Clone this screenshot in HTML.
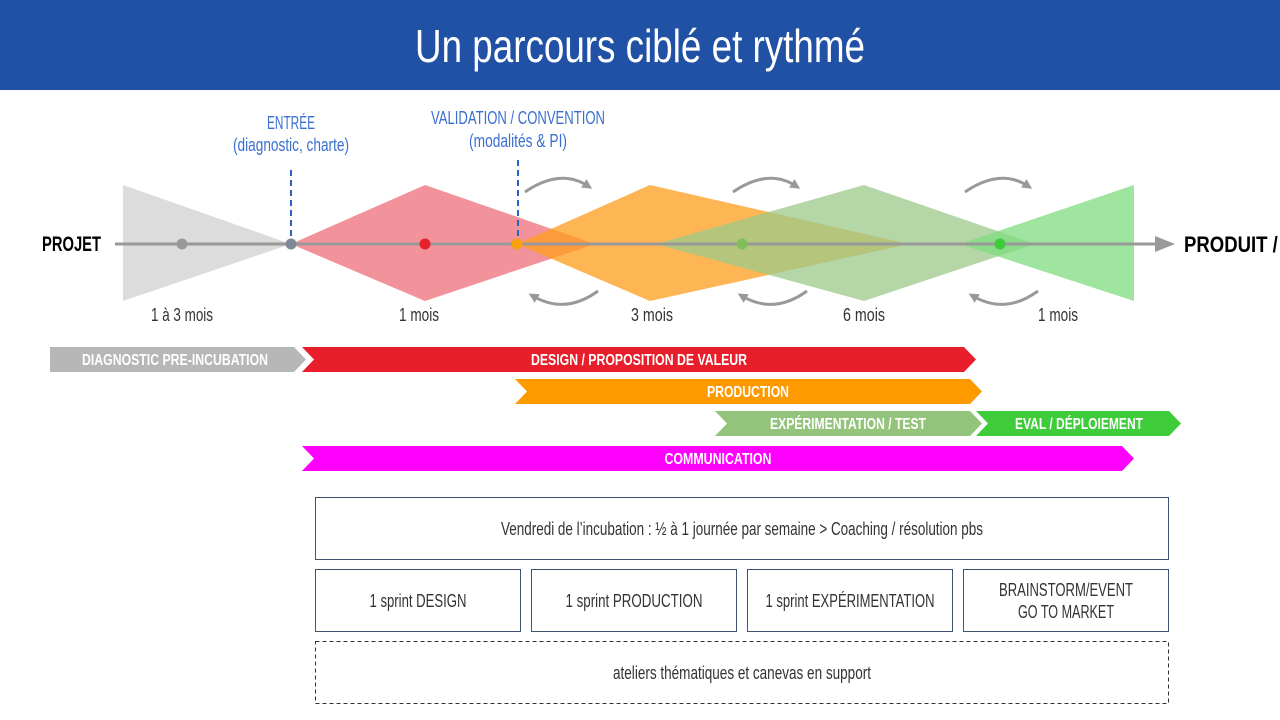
<!DOCTYPE html>
<html><head><meta charset="utf-8"><style>
html,body{margin:0;padding:0;background:#fff;}
svg{display:block}
text{font-family:"Liberation Sans Narrow","Liberation Sans",sans-serif;}
</style></head><body>
<svg width="1280" height="720" viewBox="0 0 1280 720" xmlns="http://www.w3.org/2000/svg">
<defs>
<marker id="ah" markerWidth="10" markerHeight="10" refX="5" refY="5" orient="auto" markerUnits="userSpaceOnUse"><path d="M0,0 L10,5 L0,10 z" fill="#999"/></marker>
</defs>
<rect x="0" y="0" width="1280" height="90" fill="#2151a5"/>
<text x="640" y="62" font-size="46" fill="#fff" text-anchor="middle" textLength="450" lengthAdjust="spacingAndGlyphs" font-weight="300">Un parcours ciblé et rythmé</text>

<text x="291" y="129" font-size="18" fill="#3a6fd0" text-anchor="middle" textLength="48" lengthAdjust="spacingAndGlyphs">ENTRÉE</text>
<text x="291" y="151" font-size="18" fill="#3a6fd0" text-anchor="middle" textLength="116" lengthAdjust="spacingAndGlyphs">(diagnostic, charte)</text>
<text x="518" y="124" font-size="18" fill="#3a6fd0" text-anchor="middle" textLength="174" lengthAdjust="spacingAndGlyphs">VALIDATION / CONVENTION</text>
<text x="518" y="147" font-size="18" fill="#3a6fd0" text-anchor="middle" textLength="98" lengthAdjust="spacingAndGlyphs">(modalités &amp; PI)</text>

<polygon points="123,185 123,301 291,244" fill="#dcdcdc"/>
<polygon points="291,244 425,185 595,244 425,301" fill="#ee6e78" opacity="0.75"/>
<polygon points="517,244 650,185 909,244 650,301" fill="#fd9d1c" opacity="0.75"/>
<polygon points="656,244 864,185 1035,244 864,301" fill="#9cc98a" opacity="0.75"/>
<polygon points="960,244 1134,185 1134,301" fill="#7fdc7f" opacity="0.75"/>

<line x1="291" y1="170" x2="291" y2="244" stroke="#2b62c8" stroke-width="2" stroke-dasharray="6,4"/>
<line x1="518" y1="160" x2="518" y2="244" stroke="#2b62c8" stroke-width="2" stroke-dasharray="6,4"/>

<line x1="115" y1="244" x2="1162" y2="244" stroke="#999" stroke-width="3"/>
<polygon points="1155,236 1175,244 1155,252" fill="#999"/>
<circle cx="182" cy="244" r="5.5" fill="#999"/>
<circle cx="291" cy="244" r="5.5" fill="#7f8896"/>
<circle cx="425" cy="244" r="5.5" fill="#e8202a"/>
<circle cx="517" cy="244" r="5.5" fill="#f9a10b"/>
<circle cx="742" cy="244" r="5.5" fill="#7fbf5a"/>
<circle cx="1000" cy="244" r="5.5" fill="#3ecc3a"/>

<text x="42" y="251" font-size="21" font-weight="bold" fill="#000" textLength="59" lengthAdjust="spacingAndGlyphs">PROJET</text>
<text x="1184" y="252" font-size="22" font-weight="bold" fill="#000" textLength="180" lengthAdjust="spacingAndGlyphs">PRODUIT / SERVICE</text>

<g fill="none" stroke="#999" stroke-width="3">
<path d="M525,192 Q560,168 588,186" marker-end="url(#ah)"/>
<path d="M733,192 Q768,168 796,186" marker-end="url(#ah)"/>
<path d="M965,192 Q1000,168 1028,186" marker-end="url(#ah)"/>
<path d="M598,291 Q565,315 533,296" marker-end="url(#ah)"/>
<path d="M807,291 Q774,315 742,296" marker-end="url(#ah)"/>
<path d="M1038,291 Q1005,315 973,296" marker-end="url(#ah)"/>
</g>

<g font-size="18" fill="#333" text-anchor="middle">
<text x="182" y="321" textLength="62" lengthAdjust="spacingAndGlyphs">1 à 3 mois</text>
<text x="419" y="321" textLength="40" lengthAdjust="spacingAndGlyphs">1 mois</text>
<text x="652" y="321" textLength="42" lengthAdjust="spacingAndGlyphs">3 mois</text>
<text x="864" y="321" textLength="42" lengthAdjust="spacingAndGlyphs">6 mois</text>
<text x="1058" y="321" textLength="40" lengthAdjust="spacingAndGlyphs">1 mois</text>
</g>

<polygon points="50,347 294,347 306,359.5 294,372 50,372" fill="#b7b7b7"/>
<polygon points="302,347 964,347 976,359.5 964,372 302,372 314,359.5" fill="#e81e2a"/>
<polygon points="515,379 970,379 982,391.5 970,404 515,404 527,391.5" fill="#fd9a00"/>
<polygon points="715,411 970,411 982,423.5 970,436 715,436 727,423.5" fill="#94c47c"/>
<polygon points="976,411 1169,411 1181,423.5 1169,436 976,436 988,423.5" fill="#3ecc3a"/>
<polygon points="302,446 1122,446 1134,458.5 1122,471 302,471 314,458.5" fill="#ff00ff"/>
<g font-size="16" font-weight="bold" fill="#fff" text-anchor="middle">
<text x="175" y="365" textLength="186" lengthAdjust="spacingAndGlyphs">DIAGNOSTIC PRE-INCUBATION</text>
<text x="639" y="365" textLength="216" lengthAdjust="spacingAndGlyphs">DESIGN / PROPOSITION DE VALEUR</text>
<text x="748" y="397" textLength="82" lengthAdjust="spacingAndGlyphs">PRODUCTION</text>
<text x="848" y="429" textLength="156" lengthAdjust="spacingAndGlyphs">EXPÉRIMENTATION / TEST</text>
<text x="1079" y="429" textLength="128" lengthAdjust="spacingAndGlyphs">EVAL / DÉPLOIEMENT</text>
<text x="718" y="464" textLength="107" lengthAdjust="spacingAndGlyphs">COMMUNICATION</text>
</g>

<g fill="none" stroke="#3d5373" stroke-width="1">
<rect x="315.5" y="497.5" width="853" height="62"/>
<rect x="315.5" y="569.5" width="205" height="62"/>
<rect x="531.5" y="569.5" width="205" height="62"/>
<rect x="747.5" y="569.5" width="205" height="62"/>
<rect x="963.5" y="569.5" width="205" height="62"/>
<rect x="315.5" y="641.5" width="853" height="62" stroke="#333" stroke-dasharray="4,3"/>
</g>
<g font-size="18" fill="#333" text-anchor="middle">
<text x="742" y="535" textLength="482" lengthAdjust="spacingAndGlyphs">Vendredi de l’incubation : ½ à 1 journée par semaine &gt; Coaching / résolution pbs</text>
<text x="418" y="607" textLength="97" lengthAdjust="spacingAndGlyphs">1 sprint DESIGN</text>
<text x="634" y="607" textLength="137" lengthAdjust="spacingAndGlyphs">1 sprint PRODUCTION</text>
<text x="850" y="607" textLength="169" lengthAdjust="spacingAndGlyphs">1 sprint EXPÉRIMENTATION</text>
<text x="1066" y="596" textLength="134" lengthAdjust="spacingAndGlyphs">BRAINSTORM/EVENT</text>
<text x="1066" y="618" textLength="96" lengthAdjust="spacingAndGlyphs">GO TO MARKET</text>
<text x="742" y="679" textLength="258" lengthAdjust="spacingAndGlyphs">ateliers thématiques et canevas en support</text>
</g>
</svg>
</body></html>
